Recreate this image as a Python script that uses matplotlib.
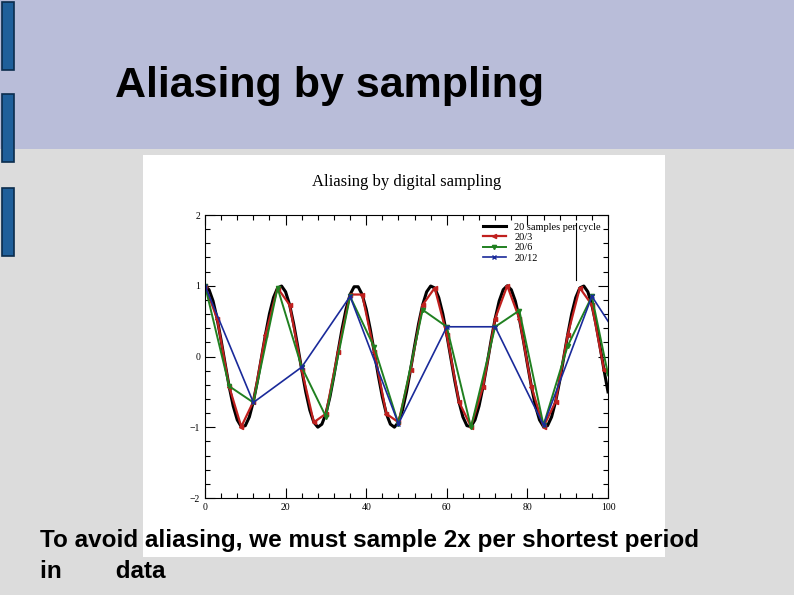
import matplotlib
matplotlib.use("Agg")
import matplotlib.pyplot as plt
from matplotlib.patches import Rectangle
from matplotlib.ticker import MultipleLocator

# black curve, read at every unit of x (0..100)
x_full = list(range(101))
y_full = [1.000, 0.944, 0.784, 0.536, 0.228, -0.105, -0.426, -0.700, -0.896, -0.992,
          -0.978, -0.855, -0.637, -0.349, -0.021, 0.309, 0.605, 0.833, 0.969, 0.996,
          0.914, 0.729, 0.463, 0.146, -0.187, -0.500, -0.757, -0.930, -0.999, -0.957,
          -0.809, -0.571, -0.269, 0.063, 0.388, 0.669, 0.876, 0.986, 0.986, 0.876,
          0.669, 0.388, 0.063, -0.269, -0.571, -0.809, -0.957, -0.999, -0.930, -0.757,
          -0.500, -0.187, 0.146, 0.463, 0.729, 0.914, 0.996, 0.969, 0.833, 0.605,
          0.309, -0.021, -0.349, -0.637, -0.855, -0.978, -0.992, -0.896, -0.700, -0.426,
          -0.105, 0.228, 0.536, 0.784, 0.944, 1.000, 0.944, 0.784, 0.536, 0.228,
          -0.105, -0.426, -0.700, -0.896, -0.992, -0.978, -0.855, -0.637, -0.349, -0.021,
          0.309, 0.605, 0.833, 0.969, 0.996, 0.914, 0.729, 0.463, 0.146, -0.187, -0.500]

# 20/3 samples (every 3rd point)
x_red = x_full[::3]
y_red = y_full[::3]

# 20/6
x_green = [0, 6, 12, 18, 24, 30, 36, 42, 48, 54, 60, 66, 72, 78, 84, 90, 96, 100]
y_green = [1.0, -0.42, -0.65, 0.97, -0.15, -0.85, 0.85, 0.13, -0.95, 0.66,
           0.42, -1.0, 0.42, 0.65, -0.97, 0.15, 0.85, -0.25]

# 20/12
x_blue = [0, 12, 24, 36, 48, 60, 72, 84, 96, 108]
y_blue = [1.0, -0.65, -0.15, 0.85, -0.95, 0.42, 0.42, -0.97, 0.85, -0.2]

fig = plt.figure(figsize=(7.94, 5.95), dpi=100)
fig.patch.set_facecolor("#dcdcdc")

# slide decoration
fig.add_artist(Rectangle((0, 0.75), 1, 0.25, transform=fig.transFigure,
                         facecolor="#b9bdd9", edgecolor="none", zorder=-3))
for top in [0, 92, 186]:
    fig.add_artist(Rectangle((2 / 794, 1 - (top + 70) / 595), 12 / 794, 68 / 595,
                             transform=fig.transFigure, facecolor="#1f5f9a",
                             edgecolor="#0b2c4d", lw=1.2, zorder=-2))
fig.add_artist(Rectangle((143 / 794, 1 - 557 / 595), 522 / 794, 402 / 595,
                         transform=fig.transFigure, facecolor="white",
                         edgecolor="none", zorder=-2))

fig.text(115 / 794, 1 - 86 / 595, "Aliasing by sampling", fontsize=31,
         fontweight="bold", family="Liberation Sans", va="center")
fig.text(407 / 794, 1 - 182 / 595, "Aliasing by digital sampling", fontsize=12,
         family="Liberation Serif", ha="center", va="center")

ax = fig.add_axes([205 / 794, 1 - 498 / 595, 403 / 794, 283 / 595])
ax.set_zorder(3)
ax.plot(x_full, y_full, color="black", lw=2.2, label="20 samples per cycle")
ax.plot(x_red, y_red, color="#c0201e", lw=1.6, marker="<", ms=3,
        label="20/3")
ax.plot(x_green, y_green, color="#208020", lw=1.4, marker="v", ms=3,
        label="20/6")
ax.plot(x_blue, y_blue, color="#1a2a9a", lw=1.2, marker="x", ms=3,
        label="20/12")
ax.set_xlim(0, 100)
ax.set_ylim(-2, 2)
ax.xaxis.set_major_locator(MultipleLocator(20))
ax.xaxis.set_minor_locator(MultipleLocator(4))
ax.yaxis.set_major_locator(MultipleLocator(1))
ax.yaxis.set_minor_locator(MultipleLocator(0.2))
ax.tick_params(which="both", direction="in", top=True, right=True,
               labelsize=7, width=0.8)
ax.tick_params(which="major", length=7)
ax.tick_params(which="minor", length=3.5)
for lab in ax.get_xticklabels() + ax.get_yticklabels():
    lab.set_family("Liberation Serif")
leg = ax.legend(loc="upper right", frameon=False,
                prop={"family": "Liberation Serif", "size": 7.5},
                handlelength=2.2, borderaxespad=0.3, labelspacing=0.1)
ax.axvline(92, ymin=0.77, ymax=0.97, color="black", lw=0.8)

fig.text(40 / 794, 1 - 541 / 595,
         "To avoid aliasing, we must sample 2x per shortest period",
         fontsize=17.5, fontweight="bold", family="Liberation Sans",
         va="center", zorder=5)
fig.text(40 / 794, 1 - 571 / 595, "in        data",
         fontsize=17.5, fontweight="bold", family="Liberation Sans",
         va="center", zorder=5)

fig.savefig("out.png", dpi=100, facecolor=fig.get_facecolor())
